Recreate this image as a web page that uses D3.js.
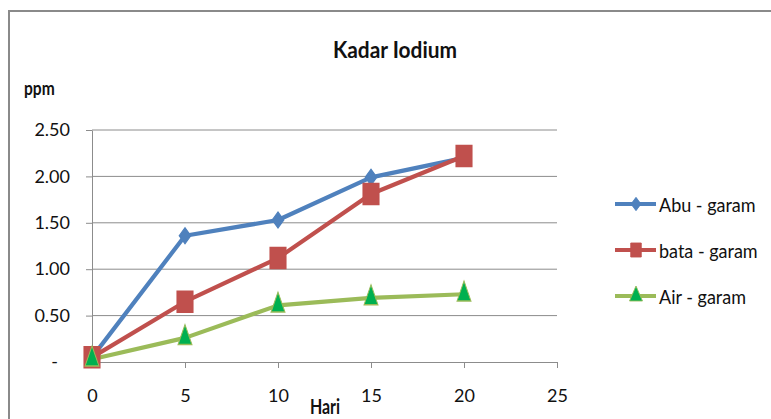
<!DOCTYPE html>
<html>
<head>
<meta charset="utf-8">
<script src="https://cdn.jsdelivr.net/npm/d3@7"></script>
<style>
  html, body { margin: 0; padding: 0; background: #fff; }
  svg { display: block; }
  text { font-family: "Lato", "Open Sans", sans-serif; fill: #111; }
</style>
</head>
<body>
<div id="chart"></div>
<script>
// Days (x) and iodium content in ppm (y)
const days = [0, 5, 10, 15, 20];
const abuGaram = [0.05, 1.36, 1.53, 1.99, 2.20];
const bataGaram = [0.05, 0.65, 1.12, 1.81, 2.22];
const airGaram = [0.03, 0.26, 0.61, 0.69, 0.73];
const seriesNames = ["Abu - garam", "bata - garam", "Air - garam"];
const xTicks = [0, 5, 10, 15, 20, 25];
const yTicks = [0, 0.5, 1.0, 1.5, 2.0, 2.5];

const series = [
  { name: seriesNames[0], values: abuGaram, color: "#4f81bd", marker: "diamond" },
  { name: seriesNames[1], values: bataGaram, color: "#c0504d", marker: "square" },
  { name: seriesNames[2], values: airGaram, color: "#9bbb59", marker: "triangle" },
];

const W = 771, H = 419;
const svg = d3.select("#chart").append("svg")
  .attr("width", W).attr("height", H);

// outer chart border (cut off right and bottom, like the screenshot)
svg.append("rect")
  .attr("x", 9).attr("y", 11)
  .attr("width", W + 20).attr("height", H + 20)
  .attr("fill", "none")
  .attr("stroke", "#8a8a8a")
  .attr("stroke-width", 2);

const x = d3.scaleLinear().domain([0, 25]).range([92, 557]);
const y = d3.scaleLinear().domain([0, 2.5]).range([362, 130]);

// gridlines
svg.append("g")
  .selectAll("line")
  .data(yTicks.filter(d => d > 0))
  .join("line")
  .attr("x1", x(0)).attr("x2", x(25))
  .attr("y1", d => y(d)).attr("y2", d => y(d))
  .attr("stroke", "#8c8c8c").attr("stroke-width", 1);

const fmtY = d => d === 0 ? "-" : d3.format(".2f")(d);

const yAxis = svg.append("g")
  .attr("transform", `translate(${x(0)},0)`)
  .call(d3.axisLeft(y).tickValues(yTicks).tickFormat(fmtY).tickSize(6).tickSizeOuter(0).tickPadding(16));
yAxis.select(".domain").attr("stroke", "#8c8c8c");
yAxis.selectAll(".tick line").attr("stroke", "#8c8c8c");
yAxis.selectAll(".tick text").style("font-size", "18px").attr("fill", "#222");
yAxis.selectAll(".tick")
  .filter(d => d === 0)
  .select("text").attr("dx", -12);

const xAxis = svg.append("g")
  .attr("transform", `translate(0,${y(0)})`)
  .call(d3.axisBottom(x).tickValues(xTicks).tickSize(6).tickSizeOuter(0).tickPadding(21));
xAxis.select(".domain").attr("stroke", "#8c8c8c");
xAxis.selectAll(".tick line").attr("stroke", "#8c8c8c");
xAxis.selectAll(".tick text").style("font-size", "18px").attr("fill", "#222");

// text squeezed horizontally like the source image
function label(tx, ty, str, size, sx, opts = {}) {
  return svg.append("text")
    .attr("transform", `translate(${tx},${ty}) scale(${sx},1)`)
    .attr("text-anchor", opts.anchor || "start")
    .style("font-size", size + "px")
    .style("font-weight", opts.bold ? "bold" : "normal")
    .text(str);
}

label(395, 58, "Kadar Iodium", 22, 0.95, { anchor: "middle", bold: true });
label(24, 95, "ppm", 19, 0.82, { bold: true });
label(325, 414, "Hari", 21, 0.76, { anchor: "middle", bold: true });

// markers: tall, narrow shapes
function markerPath(kind, h) {
  if (kind === "diamond") return d3.symbol(d3.symbolDiamond2, h * h / 2)();
  if (kind === "square") return d3.symbol(d3.symbolSquare, h * h)();
  const s = h / 0.866;
  return d3.symbol(d3.symbolTriangle, Math.sqrt(3) / 4 * s * s)();
}
const markerScale = { diamond: 0.72, square: 0.76, triangle: 0.6 };
const markerH = { diamond: 18, square: 21, triangle: 20 };
function markerFill(s) { return s.marker === "triangle" ? "#00b050" : s.color; }

const line = d3.line().x((d, i) => x(days[i])).y(d => y(d));

series.forEach(s => {
  svg.append("path")
    .attr("d", line(s.values))
    .attr("fill", "none")
    .attr("stroke", s.color)
    .attr("stroke-width", 4.2)
    .attr("stroke-linejoin", "round");
});
series.forEach(s => {
  svg.append("g")
    .selectAll("path")
    .data(s.values)
    .join("path")
    .attr("transform", (d, i) => `translate(${x(days[i])},${y(d)}) scale(${markerScale[s.marker]},1)`)
    .attr("d", markerPath(s.marker, markerH[s.marker]))
    .attr("fill", markerFill(s))
    .attr("stroke", s.color)
    .attr("stroke-width", 1.5);
});

// legend
const legend = svg.append("g");
series.forEach((s, i) => {
  const ly = 204 + i * 46;
  legend.append("line")
    .attr("x1", 615).attr("x2", 656)
    .attr("y1", ly).attr("y2", ly)
    .attr("stroke", s.color).attr("stroke-width", 4.2);
  const lh = s.marker === "square" ? 14 : 15;
  legend.append("path")
    .attr("transform", `translate(636,${ly}) scale(0.75,1)`)
    .attr("d", markerPath(s.marker, lh))
    .attr("fill", markerFill(s))
    .attr("stroke", s.color).attr("stroke-width", 1);
  label(659, ly + 8, s.name, 20, 0.9);
});
</script>
</body>
</html>
